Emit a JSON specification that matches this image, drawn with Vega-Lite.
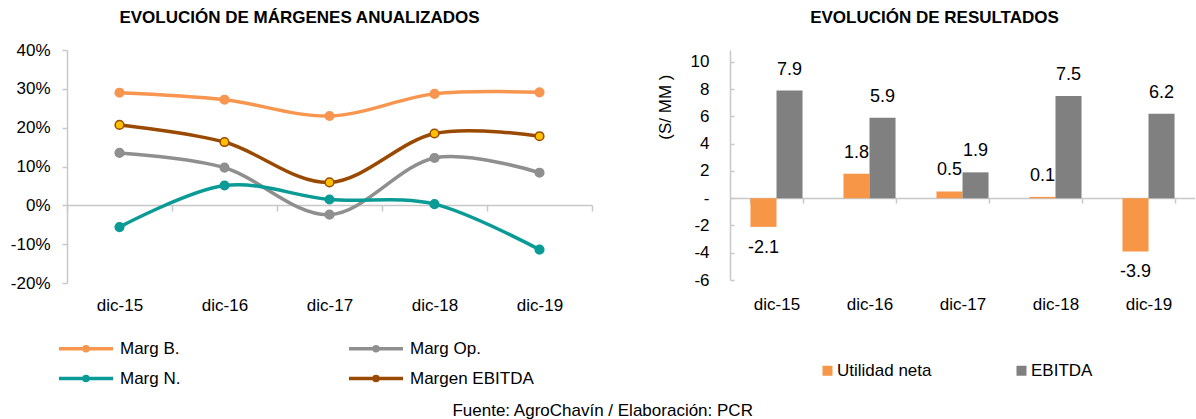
{
  "$schema": "https://vega.github.io/schema/vega-lite/v6.json",
  "background": "white",
  "padding": {"left": 10, "top": 9, "right": 0, "bottom": 0},
  "config": {
    "font": "Liberation Sans",
    "view": {"stroke": null},
    "axis": {"labelColor": "#000000", "titleColor": "#000000", "labelFont": "Liberation Sans", "titleFont": "Liberation Sans"},
    "legend": {"labelColor": "#000000", "labelFont": "Liberation Sans"},
    "title": {"color": "#000000", "font": "Liberation Sans"}
  },
  "title": {"text": "Fuente: AgroChavín / Elaboración: PCR", "orient": "bottom", "anchor": "middle", "fontSize": 17, "fontWeight": "normal", "offset": 15},
  "datasets": {
    "margenes": [
      {"periodo": "dic-15", "serie": "Marg B.", "valor": 29.0},
      {"periodo": "dic-16", "serie": "Marg B.", "valor": 27.2},
      {"periodo": "dic-17", "serie": "Marg B.", "valor": 23.0},
      {"periodo": "dic-18", "serie": "Marg B.", "valor": 28.7},
      {"periodo": "dic-19", "serie": "Marg B.", "valor": 29.1},
      {"periodo": "dic-15", "serie": "Marg Op.", "valor": 13.5},
      {"periodo": "dic-16", "serie": "Marg Op.", "valor": 9.7},
      {"periodo": "dic-17", "serie": "Marg Op.", "valor": -2.4},
      {"periodo": "dic-18", "serie": "Marg Op.", "valor": 12.2},
      {"periodo": "dic-19", "serie": "Marg Op.", "valor": 8.4},
      {"periodo": "dic-15", "serie": "Marg N.", "valor": -5.6},
      {"periodo": "dic-16", "serie": "Marg N.", "valor": 5.1},
      {"periodo": "dic-17", "serie": "Marg N.", "valor": 1.5},
      {"periodo": "dic-18", "serie": "Marg N.", "valor": 0.3},
      {"periodo": "dic-19", "serie": "Marg N.", "valor": -11.4},
      {"periodo": "dic-15", "serie": "Margen EBITDA", "valor": 20.7},
      {"periodo": "dic-16", "serie": "Margen EBITDA", "valor": 16.3},
      {"periodo": "dic-17", "serie": "Margen EBITDA", "valor": 5.9},
      {"periodo": "dic-18", "serie": "Margen EBITDA", "valor": 18.5},
      {"periodo": "dic-19", "serie": "Margen EBITDA", "valor": 17.8}
    ],
    "resultados": [
      {"periodo": "dic-15", "serie": "Utilidad neta", "valor": -2.1},
      {"periodo": "dic-15", "serie": "EBITDA", "valor": 7.9},
      {"periodo": "dic-16", "serie": "Utilidad neta", "valor": 1.8},
      {"periodo": "dic-16", "serie": "EBITDA", "valor": 5.9},
      {"periodo": "dic-17", "serie": "Utilidad neta", "valor": 0.5},
      {"periodo": "dic-17", "serie": "EBITDA", "valor": 1.9},
      {"periodo": "dic-18", "serie": "Utilidad neta", "valor": 0.1},
      {"periodo": "dic-18", "serie": "EBITDA", "valor": 7.5},
      {"periodo": "dic-19", "serie": "Utilidad neta", "valor": -3.9},
      {"periodo": "dic-19", "serie": "EBITDA", "valor": 6.2}
    ]
  },
  "spacing": 63,
  "resolve": {
    "scale": {"color": "independent", "fill": "independent", "stroke": "independent", "x": "independent", "y": "independent"},
    "legend": {"color": "independent", "fill": "independent", "stroke": "independent"}
  },
  "hconcat": [
    {
      "width": 525,
      "height": 233,
      "title": {"text": "EVOLUCIÓN DE MÁRGENES ANUALIZADOS", "fontSize": 17, "fontWeight": "bold", "anchor": "middle", "frame": "group", "dx": -30, "offset": 14},
      "data": {"name": "margenes"},
      "encoding": {
        "x": {
          "field": "periodo", "type": "nominal", "sort": null, "bandPosition": 0.5,
          "scale": {"type": "band", "paddingInner": 0, "paddingOuter": 0},
          "axis": {"title": null, "offset": -78, "domain": true, "domainColor": "#C8C8C8", "domainWidth": 1.5, "ticks": true, "tickBand": "extent", "tickSize": 6, "tickColor": "#C8C8C8", "tickWidth": 1.5, "labelPadding": 86, "labelAngle": 0, "labelFontSize": 17, "grid": false}
        },
        "y": {
          "field": "valor", "type": "quantitative",
          "scale": {"domain": [-20, 40], "nice": false, "zero": false},
          "axis": {"title": null, "values": [-20, -10, 0, 10, 20, 30, 40], "labelExpr": "datum.value + '%'", "domainColor": "#C8C8C8", "domainWidth": 1.5, "tickColor": "#C8C8C8", "tickSize": 5, "tickWidth": 1.5, "labelPadding": 12, "labelFontSize": 17, "grid": false}
        }
      },
      "layer": [
        {
          "mark": {"type": "line", "interpolate": "cardinal", "strokeWidth": 3.5},
          "encoding": {
            "color": {
              "field": "serie", "type": "nominal",
              "scale": {"domain": ["Marg B.", "Marg Op.", "Marg N.", "Margen EBITDA"], "range": ["#F8954F", "#8F8F8F", "#0A9B96", "#9A4A00"]},
              "legend": {"orient": "none", "legendX": -10, "legendY": 283, "direction": "horizontal", "columns": 2, "title": null, "symbolType": "M-1,0H3M0.85,0A0.15,0.15,0,1,1,1.15,0A0.15,0.15,0,1,1,0.85,0Z", "symbolSize": 729, "symbolStrokeWidth": 3.5, "labelOffset": 32, "labelFontSize": 17, "columnPadding": 161, "rowPadding": 5}
            }
          }
        },
        {
          "mark": {"type": "point", "filled": true, "size": 75, "strokeWidth": 1.5, "opacity": 1},
          "encoding": {
            "fill": {
              "field": "serie", "type": "nominal",
              "scale": {"domain": ["Marg B.", "Marg Op.", "Marg N.", "Margen EBITDA"], "range": ["#F8954F", "#8F8F8F", "#0A9B96", "#FFC000"]},
              "legend": null
            },
            "stroke": {
              "field": "serie", "type": "nominal",
              "scale": {"domain": ["Marg B.", "Marg Op.", "Marg N.", "Margen EBITDA"], "range": ["#F8954F", "#8F8F8F", "#0A9B96", "#9A4A00"]},
              "legend": null
            }
          }
        }
      ]
    },
    {
      "width": 465,
      "height": 230,
      "title": {"text": "EVOLUCIÓN DE RESULTADOS", "fontSize": 17, "fontWeight": "bold", "anchor": "middle", "frame": "group", "dx": -28, "offset": 23},
      "data": {"name": "resultados"},
      "encoding": {
        "x": {
          "field": "periodo", "type": "nominal", "sort": null,
          "scale": {"type": "band", "paddingInner": 0.44, "paddingOuter": 0.22},
          "axis": {"title": null, "offset": -82, "domain": true, "domainColor": "#C8C8C8", "domainWidth": 1.5, "ticks": true, "tickBand": "extent", "tickSize": 5, "tickColor": "#C8C8C8", "tickWidth": 1.5, "labelPadding": 93, "labelAngle": 0, "labelFontSize": 17, "grid": false}
        },
        "y": {
          "field": "valor", "type": "quantitative",
          "scale": {"domain": [-6, 10.88], "nice": false, "zero": false},
          "axis": {"title": "(S/ MM )", "titleAnchor": "end", "titleY": 24, "titleFontSize": 17, "titleFontWeight": "normal", "titlePadding": 16, "values": [-6, -4, -2, 0, 2, 4, 6, 8, 10], "labelExpr": "datum.value == 0 ? '-' : replace(datum.label, '−', '-')", "domainColor": "#C8C8C8", "domainWidth": 1.5, "tickColor": "#C8C8C8", "tickSize": -4, "tickWidth": 1.5, "labelPadding": 25, "labelFontSize": 17, "grid": false}
        },
        "xOffset": {"field": "serie", "type": "nominal", "scale": {"domain": ["Utilidad neta", "EBITDA"], "paddingInner": 0, "paddingOuter": 0}}
      },
      "layer": [
        {
          "mark": {"type": "bar"},
          "encoding": {
            "color": {
              "field": "serie", "type": "nominal",
              "scale": {"domain": ["Utilidad neta", "EBITDA"], "range": ["#F79646", "#808080"]},
              "legend": {"orient": "none", "legendX": 89, "legendY": 312, "direction": "horizontal", "title": null, "symbolType": "square", "symbolSize": 100, "labelOffset": 1, "labelFontSize": 17, "columnPadding": 81}
            }
          }
        },
        {
          "transform": [{"filter": "datum.valor >= 0"}],
          "mark": {"type": "text", "baseline": "bottom", "dy": -12, "fontSize": 18, "color": "#000000", "text": {"expr": "replace(format(datum.valor, '.1f'), '−', '-')"}},
          "encoding": {}
        },
        {
          "transform": [{"filter": "datum.valor < 0"}],
          "mark": {"type": "text", "baseline": "top", "dy": 12, "fontSize": 18, "color": "#000000", "text": {"expr": "replace(format(datum.valor, '.1f'), '−', '-')"}},
          "encoding": {}
        }
      ]
    }
  ]
}
